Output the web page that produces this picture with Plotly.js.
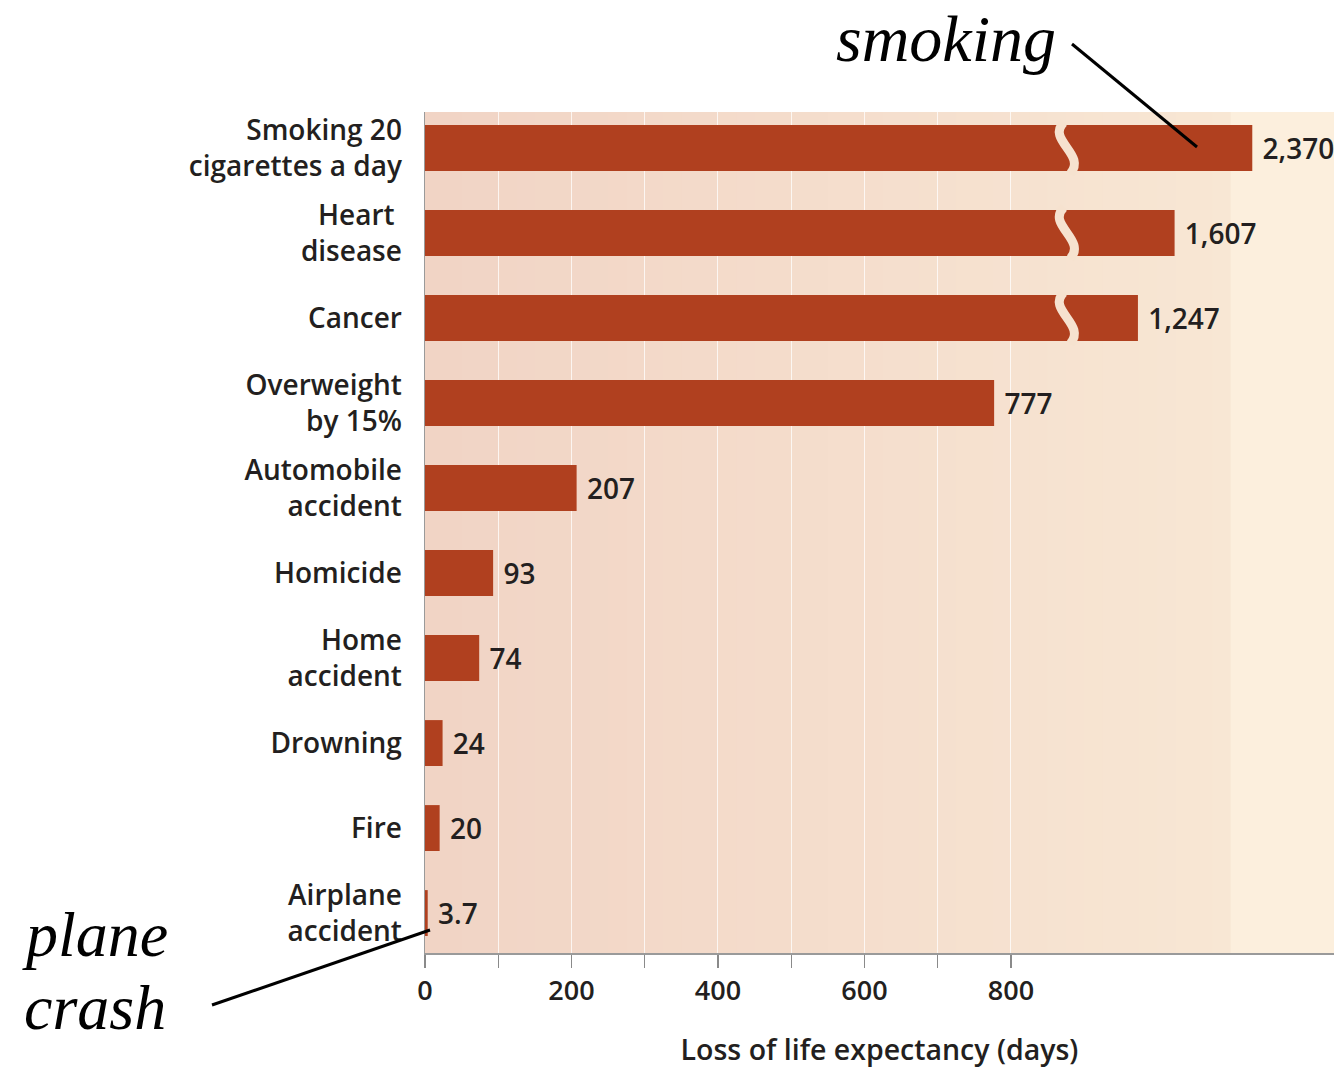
<!DOCTYPE html>
<html>
<head>
<meta charset="utf-8">
<script src="https://cdn.plot.ly/plotly-3.0.1.min.js"></script>
<style>html,body{margin:0;padding:0;background:#fff;}#chart{width:1334px;height:1068px;}</style>
</head>
<body>
<div id="chart"></div>
<script>
// ---- data (top-to-bottom order as in the picture) ----
const categories = ['Smoking 20<br>cigarettes a day', 'Heart <br>disease', 'Cancer', 'Overweight<br>by 15%',
  'Automobile<br>accident', 'Homicide', 'Home<br>accident', 'Drowning', 'Fire', 'Airplane<br>accident'];
const values = [2370, 1607, 1247, 777, 207, 93, 74, 24, 20, 3.7];
const tickValsX = [0, 100, 200, 300, 400, 500, 600, 700, 800];
const tickTextX = ['0', '', '200', '', '400', '', '600', '', '800'];
const axisTitle = 'Loss of life expectancy (days)';

// ---- broken-axis settings (values above BREAK_MIN are drawn compressed) ----
const BREAK_MIN = 1000, BREAK_BASE = 800, BREAK_SCALE = 0.139, BREAK_AT = 872;
const XMAX = 1241;

const n = categories.length;
const yPos = categories.map((c, i) => n - 1 - i);
const xDisp = values.map(v => v > BREAK_MIN ? BREAK_BASE + BREAK_SCALE * v : v);
const labels = values.map(v => '\u00a0' + v.toLocaleString('en-US'));

const FONT = '"Open Sans", "Liberation Sans", sans-serif';
const INK = '#231f20';

const trace = {
  type: 'bar', orientation: 'h',
  x: xDisp, y: yPos,
  width: 0.54,
  marker: {color: '#b0401f', line: {width: 0}},
  text: labels, textposition: 'outside', cliponaxis: false,
  textfont: {family: FONT, size: 28, color: INK, weight: 600},
  hoverinfo: 'none'
};

// background gradient bands
function mix(a, b, t) {
  const pa = [1,3,5].map(k => parseInt(a.substr(k,2),16));
  const pb = [1,3,5].map(k => parseInt(b.substr(k,2),16));
  return 'rgb(' + pa.map((v, i) => Math.round(v + (pb[i]-v)*t)).join(',') + ')';
}
const shapes = [];
const BAND = 25, BANDS_END = 1100;
for (let x0 = 0; x0 < BANDS_END; x0 += BAND) {
  shapes.push({type: 'rect', xref: 'x', yref: 'paper', x0: x0, x1: x0 + BAND + 1, y0: 0, y1: 1,
    fillcolor: mix('#f1d4c5', '#f8e7d4', x0 / BANDS_END), line: {width: 0}, layer: 'below'});
}
shapes.push({type: 'rect', xref: 'x', yref: 'paper', x0: BANDS_END, x1: XMAX, y0: 0, y1: 1,
  fillcolor: '#fcefdd', line: {width: 0}, layer: 'below'});

// break marks on compressed bars
values.forEach((v, i) => {
  if (v > BREAK_MIN) {
    const y = yPos[i];
    shapes.push({type: 'path', xref: 'x', yref: 'y', layer: 'above',
      path: `M ${BREAK_AT},${y + 0.3} C ${BREAK_AT - 24},${y + 0.1} ${BREAK_AT + 32},${y - 0.08} ${BREAK_AT + 9},${y - 0.3}`,
      line: {color: '#f6e2cf', width: 9}});
  }
});

// callout lines
const L = 425, R = 1334, T = 112, B = 953;
const px = x => (x - L) / (R - L), py = y => (B - y) / (B - T);
shapes.push({type: 'line', xref: 'paper', yref: 'paper', x0: px(1072), y0: py(44), x1: px(1197), y1: py(147),
  line: {color: '#000', width: 3}, layer: 'above'});
shapes.push({type: 'line', xref: 'paper', yref: 'paper', x0: px(212), y0: py(1005), x1: px(430), y1: py(930),
  line: {color: '#000', width: 3}, layer: 'above'});

const SERIF = '"Liberation Serif", "Times New Roman", serif';
const annotations = [
  {xref: 'paper', yref: 'paper', x: px(1058), y: py(39), xanchor: 'right', yanchor: 'middle', showarrow: false,
    text: 'smoking', font: {family: SERIF, size: 66, color: '#000', style: 'italic'}},
  {xref: 'paper', yref: 'paper', x: px(20), y: py(934), xanchor: 'left', yanchor: 'middle', showarrow: false,
    text: 'plane', font: {family: SERIF, size: 64, color: '#000', style: 'italic'}},
  {xref: 'paper', yref: 'paper', x: px(22), y: py(1007), xanchor: 'left', yanchor: 'middle', showarrow: false,
    text: 'crash', font: {family: SERIF, size: 64, color: '#000', style: 'italic'}}
];

const layout = {
  width: 1334, height: 1068,
  margin: {l: L, r: 1334 - R, t: T, b: 1068 - B},
  paper_bgcolor: '#ffffff', plot_bgcolor: '#f5dfcd',
  showlegend: false,
  font: {family: FONT, color: INK},
  xaxis: {
    range: [0, XMAX], tickmode: 'array', tickvals: tickValsX, ticktext: tickTextX,
    showgrid: true, gridcolor: 'rgba(255,255,255,0.75)', gridwidth: 1,
    zeroline: false, showline: true, linecolor: '#9a9a9a', linewidth: 1.5,
    ticks: 'outside', ticklen: 13, tickcolor: '#8a8a8a', tickwidth: 1.2,
    tickfont: {family: FONT, size: 27, color: INK, weight: 600},
    title: {text: axisTitle, font: {family: FONT, size: 28.5, color: INK, weight: 600}, standoff: 34},
    automargin: false, fixedrange: true
  },
  yaxis: {
    range: [-0.47, n - 1 + 0.424], tickmode: 'array', tickvals: yPos, ticktext: categories,
    showgrid: false, zeroline: false, showline: true, linecolor: '#9a9a9a', linewidth: 1.5,
    ticks: '', ticklabelstandoff: 16,
    tickfont: {family: FONT, size: 28, color: INK, weight: 600},
    automargin: false, fixedrange: true
  },
  shapes: shapes,
  annotations: annotations
};

Plotly.newPlot('chart', [trace], layout, {displayModeBar: false, staticPlot: true});
</script>
</body>
</html>
